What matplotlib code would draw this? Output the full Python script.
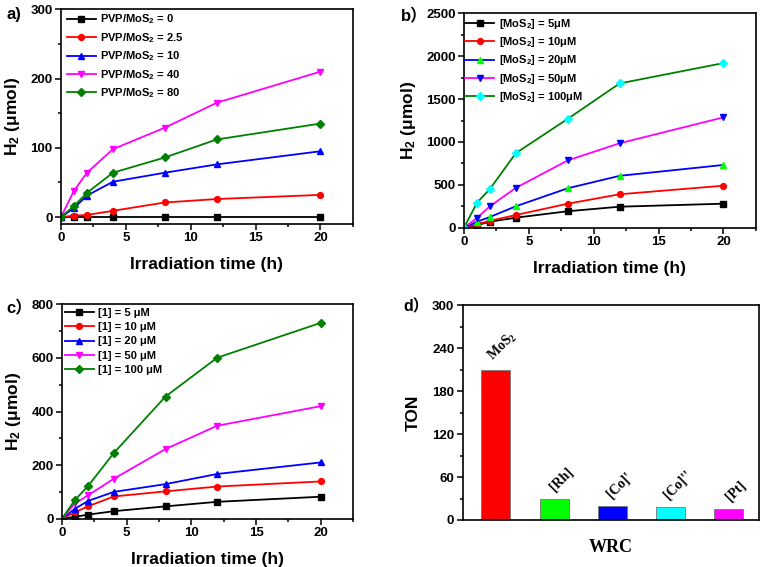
import matplotlib
matplotlib.use("Agg")
import matplotlib.pyplot as plt
from matplotlib.ticker import MultipleLocator, AutoMinorLocator

plt.rcParams['font.family'] = ['Liberation Sans', 'Noto Sans CJK SC', 'DejaVu Sans']
plt.rcParams['font.weight'] = 'bold'
plt.rcParams['mathtext.fontset'] = 'custom'
plt.rcParams['mathtext.bf'] = 'Liberation Sans:bold'
plt.rcParams['mathtext.rm'] = 'Liberation Serif:bold'
plt.rcParams['mathtext.default'] = 'bf'

# ---------------- data ----------------
time_h = [0, 1, 2, 4, 8, 12, 20]

# panel a
a_labels = ["PVP/MoS$_2$ = 0", "PVP/MoS$_2$ = 2.5", "PVP/MoS$_2$ = 10",
            "PVP/MoS$_2$ = 40", "PVP/MoS$_2$ = 80"]
a_pvp0 = [0, 0, 0, 0, 0, 0, 0]
a_pvp2_5 = [0, 2, 3, 9, 21, 26, 32]
a_pvp10 = [0, 13, 31, 51, 64, 76, 95]
a_pvp40 = [0, 38, 64, 98, 129, 165, 210]
a_pvp80 = [0, 16, 35, 64, 86, 112, 135]

# panel b
b_labels = ["[MoS$_2$] = 5μM", "[MoS$_2$] = 10μM", "[MoS$_2$] = 20μM",
            "[MoS$_2$] = 50μM", "[MoS$_2$] = 100μM"]
b_5 = [0, 30, 70, 117, 192, 245, 280]
b_10 = [0, 40, 80, 148, 280, 390, 490]
b_20 = [0, 70, 125, 250, 460, 605, 732]
b_50 = [0, 113, 250, 465, 785, 985, 1287]
b_100 = [0, 290, 452, 870, 1270, 1683, 1920]

# panel c
c_labels = ["[1] = 5 μM", "[1] = 10 μM", "[1] = 20 μM", "[1] = 50 μM", "[1] = 100 μM"]
c_5 = [0, 7, 15, 28, 46, 63, 82]
c_10 = [0, 24, 46, 83, 102, 120, 139]
c_20 = [0, 37, 66, 100, 129, 167, 210]
c_50 = [0, 57, 87, 149, 260, 347, 420]
c_100 = [0, 70, 121, 245, 456, 601, 731]

# panel d
d_labels = ["$\\mathrm{MoS_2}$", "[Rh]", "[Co]'", "[Co]''", "[Pt]"]
d_ton = [210, 30, 20, 18, 16]
d_colors = ["#ff0000", "#00ff00", "#0000ff", "#00ffff", "#ff00ff"]

# ---------------- figure ----------------
fig = plt.figure(figsize=(7.6, 5.67), dpi=100)

GREEN = "#008000"
tickfs = 9.5
labfs = 12.5
legfs = 8


def style_axes(ax):
    for s in ax.spines.values():
        s.set_linewidth(1.2)
    ax.tick_params(which='both', direction='out', top=False, right=False,
                   labelsize=tickfs, width=1.1, pad=1.5)
    ax.tick_params(which='major', length=4.5)
    ax.tick_params(which='minor', length=2.5)
    for lab in ax.get_xticklabels() + ax.get_yticklabels():
        lab.set_fontweight('bold')


def line_panel(ax, series, styles, labels, ylim, ymajor, ylabel, legend_pos, labelspacing):
    for ys, (lc, mk, mfc), lab in zip(series, styles, labels):
        ax.plot(time_h, ys, color=lc, marker=mk, markerfacecolor=mfc,
                markeredgecolor=mfc, markersize=4.2, linewidth=1.3, label=lab)
    ax.set_xlim(0, 22.5)
    ax.set_ylim(*ylim)
    ax.xaxis.set_major_locator(MultipleLocator(5))
    ax.xaxis.set_minor_locator(AutoMinorLocator(2))
    ax.yaxis.set_major_locator(MultipleLocator(ymajor))
    ax.yaxis.set_minor_locator(AutoMinorLocator(2))
    ax.set_xlabel("Irradiation time (h)", fontsize=labfs, fontweight='bold', labelpad=9)
    ax.set_ylabel(ylabel, fontsize=labfs, fontweight='bold', labelpad=6)
    leg = ax.legend(loc='upper left', bbox_to_anchor=legend_pos, frameon=False,
                    fontsize=legfs, handlelength=2.6, handletextpad=0.4,
                    borderpad=0, borderaxespad=0, labelspacing=labelspacing)
    for t in leg.get_texts():
        t.set_fontweight('bold')
    style_axes(ax)


# panel a
ax_a = fig.add_axes([0.0803, 0.605, 0.384, 0.3786])
line_panel(ax_a,
           [a_pvp0, a_pvp2_5, a_pvp10, a_pvp40, a_pvp80],
           [("black", "s", "black"), ("#ff0000", "o", "#ff0000"),
            ("#0000ff", "^", "#0000ff"), ("#ff00ff", "v", "#ff00ff"),
            (GREEN, "D", GREEN)],
           a_labels, (-10, 300), 100, "H$_2$ (μmol)", (0.02, 0.985), 0.42)

# panel b
ax_b = fig.add_axes([0.6105, 0.5984, 0.384, 0.378])
line_panel(ax_b,
           [b_5, b_10, b_20, b_50, b_100],
           [("black", "s", "black"), ("#ff0000", "o", "#ff0000"),
            ("#0000ff", "^", "#00ff00"), ("#ff00ff", "v", "#0000ff"),
            (GREEN, "D", "#00ffff")],
           b_labels, (0, 2500), 500, "H$_2$ (μmol)", (0.005, 0.985), 0.4)

# panel c
ax_c = fig.add_axes([0.0816, 0.0852, 0.383, 0.378])
line_panel(ax_c,
           [c_5, c_10, c_20, c_50, c_100],
           [("black", "s", "black"), ("#ff0000", "o", "#ff0000"),
            ("#0000ff", "^", "#0000ff"), ("#ff00ff", "v", "#ff00ff"),
            (GREEN, "D", GREEN)],
           c_labels, (0, 800), 200, "H$_2$ (μmol)", (0.01, 0.985), 0.4)

# panel d
ax_d = fig.add_axes([0.6088, 0.0829, 0.39, 0.379])
xpos = list(range(len(d_ton)))
ax_d.bar(xpos, d_ton, width=0.5, color=d_colors, edgecolor="#777777", linewidth=0.6)
ax_d.set_xlim(-0.57, 4.52)
ax_d.set_ylim(0, 300)
ax_d.set_xticks([])
ax_d.yaxis.set_major_locator(MultipleLocator(60))
ax_d.yaxis.set_minor_locator(AutoMinorLocator(2))
for x, v, lab in zip(xpos, d_ton, d_labels):
    ax_d.annotate(lab, (x, v), xytext=(5, 4), textcoords='offset points',
                  rotation=45, ha='center', va='bottom', fontsize=10,
                  family='Liberation Serif', fontweight='bold')
ax_d.set_xlabel("WRC", fontsize=13, fontweight='bold', family='Liberation Serif', labelpad=14)
ax_d.set_ylabel("TON", fontsize=labfs, fontweight='bold', labelpad=8)
style_axes(ax_d)

# panel letters
fig.text(0.008, 0.975, "a)", fontsize=12, fontweight='bold', va='center', ha='left')
fig.text(0.527, 0.972, "b）", fontsize=12, fontweight='bold', va='center', ha='left')
fig.text(0.008, 0.457, "c）", fontsize=12, fontweight='bold', va='center', ha='left')
fig.text(0.531, 0.459, "d）", fontsize=11.5, fontweight='bold', va='center', ha='left')

fig.savefig("out.png", dpi=100)
